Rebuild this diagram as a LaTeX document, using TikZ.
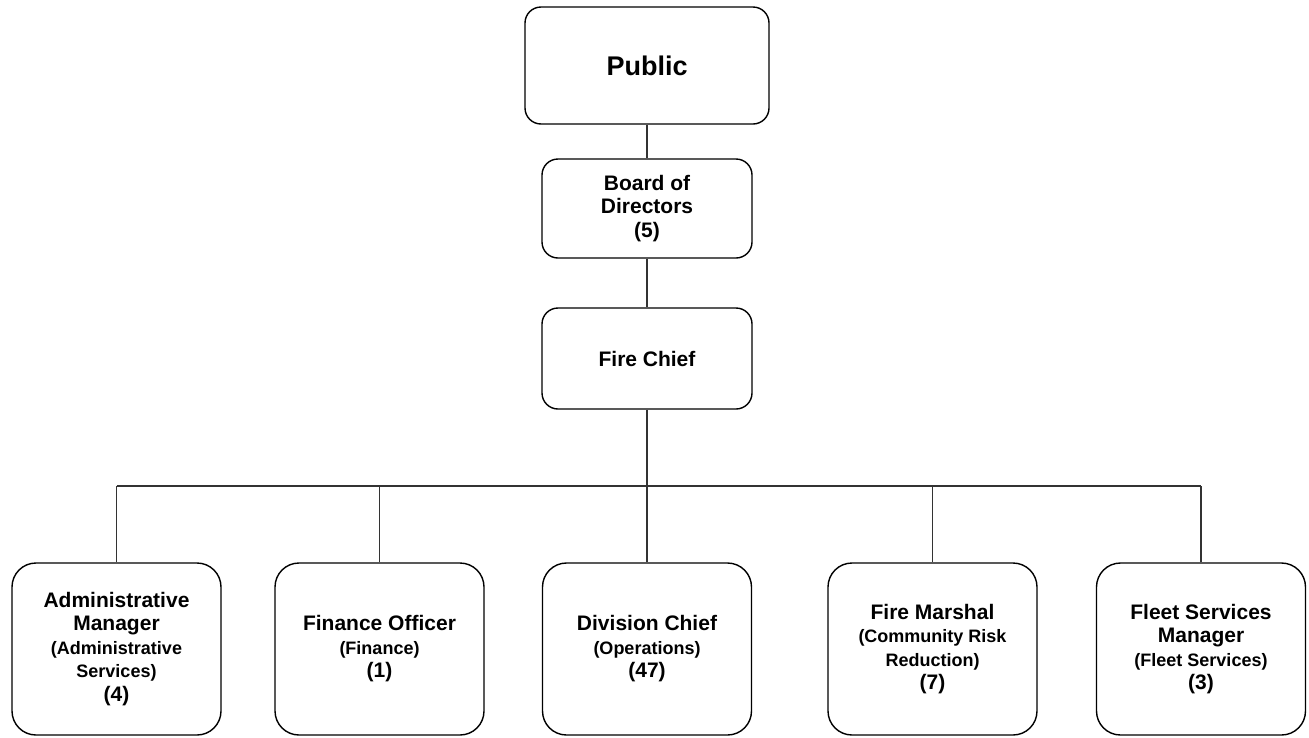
\documentclass[tikz,border=0pt]{standalone}
\usepackage{fontspec}
\setmainfont{Liberation Sans}
\begin{document}
\begin{tikzpicture}[x=1pt,y=-1pt,
  box/.style={draw=black,line width=1.4pt,rounded corners=16pt,fill=white,
    align=center,inner sep=0pt,font=\bfseries\fontsize{21}{23.5}\selectfont},
  lowbox/.style={box,rounded corners=24pt,minimum width=209pt,minimum height=172pt},
  link/.style={draw=black!80,line width=1.4pt}]
\newcommand{\subtxt}[1]{{\fontsize{18}{23.5}\selectfont #1}}
\useasboundingbox (0,0) rectangle (1309,737);
\fill[white] (0,0) rectangle (1309,737);
% upper chain
\node[box,minimum width=244pt,minimum height=117pt,font=\bfseries\fontsize{27}{30}\selectfont] (pub) at (647,65.5) {Public};
\node[box,minimum width=210pt,minimum height=99pt] (board) at (647,208.5) {Board of\\Directors\\(5)};
\node[box,minimum width=210pt,minimum height=101pt] (chief) at (647,358.5) {Fire Chief};
% lower row
\node[lowbox] (adm) at (116.5,649) {Administrative\\Manager\\\subtxt{(Administrative}\\\subtxt{Services)}\\(4)};
\node[lowbox] (fin) at (379.5,649) {Finance Officer\\\subtxt{(Finance)}\\(1)};
\node[lowbox] (div) at (647,649) {Division Chief\\\subtxt{(Operations)}\\(47)};
\node[lowbox] (fm) at (932.5,649) {Fire Marshal\\\subtxt{(Community Risk}\\\subtxt{Reduction)}\\(7)};
\node[lowbox] (fleet) at (1201,649) {Fleet Services\\Manager\\\subtxt{(Fleet Services)}\\(3)};
% connectors
\coordinate (busL) at (116.5,486);
\coordinate (busR) at (1201,486);
\draw[link] (pub.south) -- (board.north);
\draw[link] (board.south) -- (chief.north);
\draw[link] (chief.south) -- (chief.south |- busL);
\draw[link] (busL) -- (busR);
\draw[link] (adm.north) -- (adm.north |- busL);
\draw[link] (fin.north) -- (fin.north |- busL);
\draw[link] (div.north) -- (div.north |- busL);
\draw[link] (fm.north) -- (fm.north |- busL);
\draw[link] (fleet.north) -- (fleet.north |- busL);
\end{tikzpicture}
\end{document}
